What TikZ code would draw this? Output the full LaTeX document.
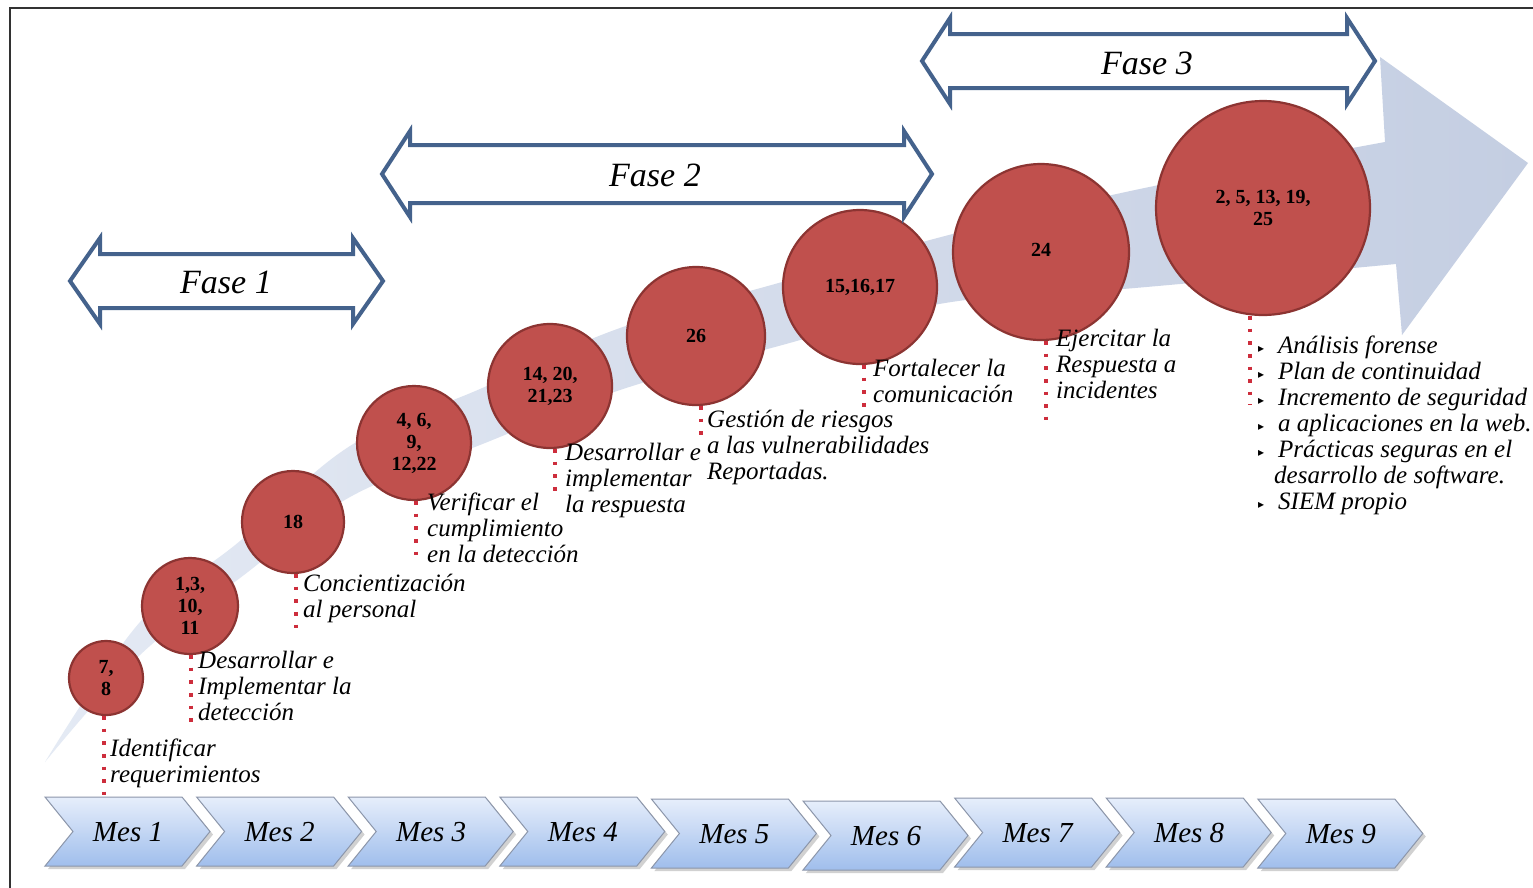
\documentclass[tikz,border=0pt]{standalone}
\usepackage{fontspec}
\setmainfont{Liberation Serif}
\newfontfamily\dejavu{DejaVu Sans}
\definecolor{circfill}{RGB}{192,80,77}
\definecolor{circline}{RGB}{140,52,50}
\definecolor{phaseblue}{RGB}{68,98,140}
\definecolor{dotred}{RGB}{205,45,60}
\definecolor{bandL}{RGB}{228,234,244}
\definecolor{bandR}{RGB}{196,206,226}
\definecolor{chevtop}{RGB}{230,238,251}
\definecolor{chevbot}{RGB}{160,190,236}
\definecolor{chevline}{RGB}{140,150,170}
\definecolor{framegray}{RGB}{50,50,50}
\newcommand{\LBul}{\makebox[20pt][l]{\raisebox{1pt}{\dejavu\upshape\fontsize{12}{12}\selectfont ▸}}}
\newcommand{\PhaseArrow}[6]{%
  \draw[phasebox] (#1,#3) -- (#1+#6,#3-#5) -- (#1+#6,#3-#4) -- (#2-#6,#3-#4) -- (#2-#6,#3-#5)
    -- (#2,#3) -- (#2-#6,#3+#5) -- (#2-#6,#3+#4) -- (#1+#6,#3+#4) -- (#1+#6,#3+#5) -- cycle;}
\begin{document}
\begin{tikzpicture}[x=1pt,y=-1pt,
  circ/.style={circle, fill=circfill, draw=circline, line width=2.2pt, inner sep=0pt, align=center,
    font=\fontsize{20}{22}\selectfont\bfseries},
  lbl/.style={anchor=base west, align=left, inner sep=0pt, font=\fontsize{25}{26}\selectfont\itshape},
  mes/.style={inner sep=0pt, font=\fontsize{29}{30}\selectfont\itshape},
  fase/.style={inner sep=0pt, font=\fontsize{34}{36}\selectfont\itshape},
  dotline/.style={draw=dotred, line width=3.6pt, dash pattern=on 3.6pt off 9pt},
  phasebox/.style={draw=phaseblue, line width=4pt, fill=white, line join=miter},
  chevbox/.style={top color=chevtop, bottom color=chevbot, draw=chevline, line width=1pt},
]
\useasboundingbox (0,0) rectangle (1533,887);
\fill[white] (0,0) rectangle (1533,887);
% frame
\draw[line width=2pt, framegray] (10,900) -- (10,8) -- (1545,8);

% big curved arrow
\shade[left color=bandL, right color=bandR]
  plot[smooth, tension=0.6] coordinates {(45,762) (140,622) (240,541) (350,446) (480,389) (620,328) (775,284) (945,236) (1135,190) (1385,142)}
  -- (1380,57) -- (1528,163) -- (1402,335) -- (1396,264)
  -- plot[smooth, tension=0.6] coordinates {(1396,264) (1135,288) (945,303) (775,347) (620,390) (480,445) (350,497) (240,578) (140,655) (45,762)}
  -- cycle;

% month chevrons
\foreach \i/\dy in {1/0,2/0,3/0,4/0,5/2,6/4,7/1,8/1,9/2}{
  \pgfmathsetmacro\xl{45+151.6*(\i-1)}
  \fill[black!18] (\xl+3,800+\dy) -- ++(137,0) -- ++(28,34.5) -- ++(-28,34.5) -- ++(-137,0) -- ++(28,-34.5) -- cycle;
  \shade[chevbox] (\xl,797+\dy) -- ++(137,0) -- ++(28,34.5) -- ++(-28,34.5) -- ++(-137,0) -- ++(28,-34.5) -- cycle;
  \node[mes] (m\i) at (\xl+83,832+\dy) {Mes \i};
}

% circles
\node[circ, minimum size=74pt]  (c1) at (106,678) {7,\\8};
\node[circ, minimum size=96pt]  (c2) at (190,606) {1,3,\\10,\\11};
\node[circ, minimum size=102pt] (c3) at (293,522) {18};
\node[circ, minimum size=114pt] (c4) at (414,443) {4, 6,\\9,\\12,22};
\node[circ, minimum size=124pt] (c5) at (550,386) {14, 20,\\21,23};
\node[circ, minimum size=138pt] (c6) at (696,336) {26};
\node[circ, minimum size=154pt] (c7) at (860,287) {15,16,17};
\node[circ, minimum size=176pt] (c8) at (1041,252) {\raisebox{5pt}{24}};
\node[circ, minimum size=214pt] (c9) at (1263,208) {2, 5, 13, 19,\\25};

% dotted leaders
\coordinate (d1) at (104,797);
\coordinate (d2) at (191,722);
\coordinate (d3) at (296,632);
\coordinate (d4) at (416,560);
\coordinate (d5) at (555,492);
\coordinate (d6) at (701,442);
\coordinate (d7) at (864,410);
\coordinate (d8) at (1046,420);
\coordinate (d9) at (1250,405);
\foreach \k in {1,...,9}{
  \draw[dotline] (c\k.south -| d\k) -- (d\k);
}

% labels (anchor = baseline of last line)
\node[lbl] (l1) at (110,782) {Identificar\\requerimientos};
\node[lbl] (l2) at (198,720) {Desarrollar e\\Implementar la\\detección};
\node[lbl] (l3) at (303,617) {Concientización\\al personal};
\node[lbl] (l4) at (427,562) {Verificar el\\cumplimiento\\en la detección};
\node[lbl] (l5) at (565,512) {Desarrollar e\\implementar\\la respuesta};
\node[lbl] (l6) at (707,479) {Gestión de riesgos\\a las vulnerabilidades\\Reportadas.};
\node[lbl] (l7) at (873,402) {Fortalecer la\\comunicación};
\node[lbl] (l8) at (1056,398) {Ejercitar la\\Respuesta a\\incidentes};
\node[lbl] (l9) at (1258,509) {\LBul Análisis forense\\\LBul Plan de continuidad\\\LBul Incremento de seguridad\\\LBul a aplicaciones en la web.\\\LBul Prácticas seguras en el\\\hspace*{16pt}desarrollo de software.\\\LBul SIEM propio};

% phase arrows
\PhaseArrow{70}{383}{281}{27}{43}{30}
\node[fase] (f1) at (226,282) {Fase 1};
\PhaseArrow{382}{932}{174}{29}{43}{28}
\node[fase] (f2) at (655,175) {Fase 2};
\PhaseArrow{922}{1375}{61}{27}{43}{28}
\node[fase] (f3) at (1147,63) {Fase 3};
\end{tikzpicture}
\end{document}
